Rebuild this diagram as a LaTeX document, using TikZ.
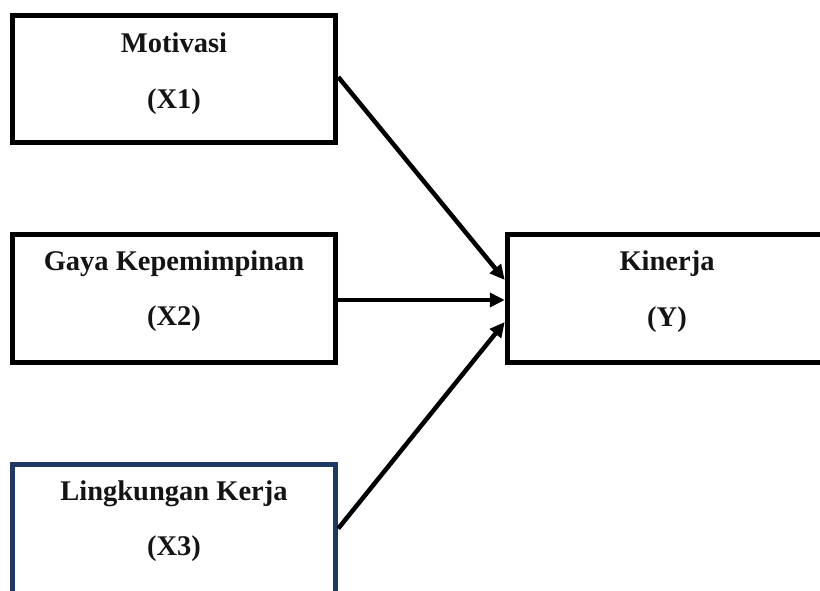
\documentclass[tikz,border=0pt]{standalone}
\usepackage{fontspec}
\setmainfont{Liberation Serif}
\usetikzlibrary{arrows.meta}
\definecolor{navy}{HTML}{1F3864}
\begin{document}
\begin{tikzpicture}[x=1pt,y=-1pt,
  box/.style={draw,line width=5.5pt,rectangle,inner sep=0pt,minimum width=#1,minimum height=127pt},
  lbl/.style={font=\fontsize{28.5}{34}\selectfont\bfseries,anchor=base,inner sep=0pt,text=black!92},
  conn/.style={line width=4.5pt,-{Triangle[length=15pt,width=14pt]}}]
\useasboundingbox (0,0) rectangle (820,590);
\clip (0,0) rectangle (820,590);
\fill[white] (0,0) rectangle (820,590);
% boxes
\node[box=323pt] (m) at (174,79) {};
\node[box=323pt,minimum height=128pt] (g) at (174,298.5) {};
\node[box=323pt,minimum height=134pt,draw=navy] (l) at (174,531.5) {};
\node[box=319.5pt,minimum height=128pt] (k) at (667.25,298.5) {};
% texts
\node[lbl] (mt) at (174,52) {Motivasi};
\node[lbl] (mx) at (174,108) {(X1)};
\node[lbl] (gt) at (174,270) {Gaya Kepemimpinan};
\node[lbl] (gx) at (174,325) {(X2)};
\node[lbl] (lt) at (174,500) {Lingkungan Kerja};
\node[lbl] (lx) at (174,555) {(X3)};
\node[lbl] (kt) at (667,270) {Kinerja};
\node[lbl] (kx) at (667,326) {(Y)};
% connectors
\draw[conn] ([yshift=2pt]m.east) -- ([yshift=18.5pt]k.west);
\draw[conn] ([yshift=-1.5pt]g.east) -- ([yshift=-1.5pt]k.west);
\draw[conn] ([yshift=3pt]l.east) -- ([yshift=-23.5pt]k.west);
\end{tikzpicture}
\end{document}
